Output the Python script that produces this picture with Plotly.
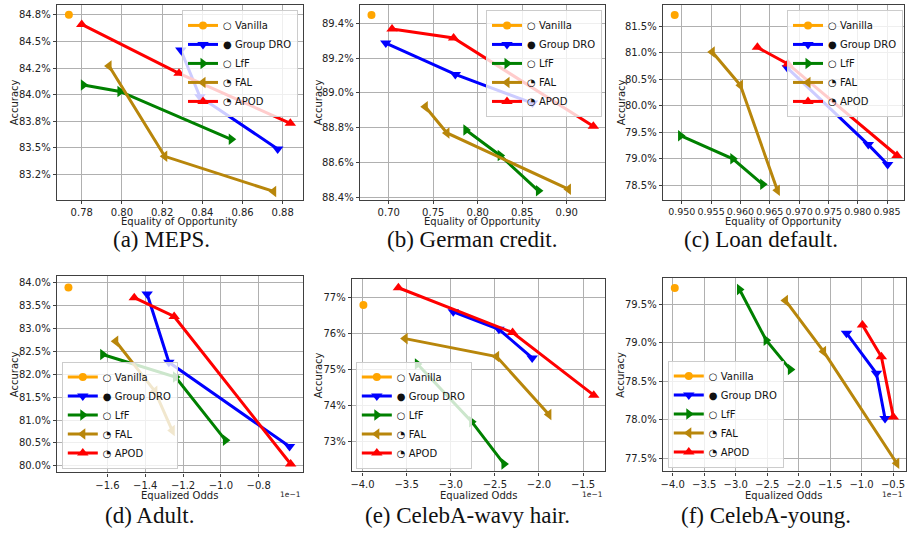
import plotly.graph_objects as go

W, H = 907, 540

# ---------------- data ----------------
methods = ["Vanilla", "Group DRO", "LfF", "FAL", "APOD"]
legend_glyphs = ["○", "●", "○", "◔", "◔"]
colors = ["#FFA500", "#0000FF", "#008000", "#B8860B", "#FF0000"]
symbols = ["circle", "triangle-down", "triangle-right", "triangle-left", "triangle-up"]

# (a) MEPS  -- x: Equality of Opportunity, y: Accuracy (%)
meps_x = [[0.7736], [0.8293, 0.8388, 0.8775], [0.7808, 0.7990, 0.8544],
          [0.7936, 0.8213, 0.8755], [0.7800, 0.8284, 0.8838]]
meps_y = [[84.75], [84.42, 83.98, 83.49], [84.09, 84.03, 83.58],
          [84.27, 83.42, 83.09], [84.66, 84.20, 83.73]]

# (b) German credit
german_x = [[0.6806], [0.6967, 0.7748, 0.8615], [0.7867, 0.8252, 0.8682],
            [0.7411, 0.7654, 0.9019], [0.7037, 0.7729, 0.9299]]
german_y = [[89.447], [89.286, 89.106, 88.942], [88.788, 88.642, 88.440],
            [88.921, 88.771, 88.449], [89.366, 89.315, 88.809]]

# (c) Loan default
loan_x = [[0.9488], [0.9680, 0.9818, 0.9851], [0.9498, 0.9587, 0.9638],
          [0.9552, 0.9600, 0.9663], [0.9629, 0.9681, 0.9867]]
loan_y = [[81.719], [80.719, 79.269, 78.894], [79.438, 79.000, 78.519],
          [81.019, 80.388, 78.406], [81.106, 80.794, 79.063]]

# (d) Adult  -- x: Equalized Odds (units of 1e-1)
adult_x = [[-1.806], [-1.390, -1.275, -0.637], [-1.625, -1.240, -0.976],
           [-1.556, -1.349, -1.257], [-1.458, -1.247, -0.631]]
adult_y = [[83.89], [83.75, 82.26, 80.42], [82.43, 81.94, 80.56],
           [82.72, 81.63, 80.77], [83.67, 83.26, 80.04]]

# (e) CelebA-wavy hair
wavy_x = [[-3.990], [-2.971, -2.454, -2.077], [-3.378, -2.763, -2.397],
          [-3.517, -2.480, -1.888], [-3.593, -2.299, -1.379]]
wavy_y = [[76.80], [76.61, 76.12, 75.32], [75.15, 73.54, 72.36],
          [75.86, 75.36, 73.74], [77.28, 76.03, 74.28]]

# (f) CelebA-young
young_x = [[-3.968], [-1.239, -0.764, -0.627], [-2.939, -2.516, -2.131],
           [-2.210, -1.604, -0.441], [-0.986, -0.685, -0.495]]
young_y = [[79.715], [79.126, 78.605, 78.016], [79.694, 79.035, 78.653],
           [79.552, 78.889, 77.435], [79.233, 78.820, 78.038]]

captions = ["(a) MEPS.", "(b) German credit.", "(c) Loan default.",
            "(d) Adult.", "(e) CelebA-wavy hair.", "(f) CelebA-young."]
x_titles = ["Equality of Opportunity"] * 3 + ["Equalized Odds"] * 3
y_title = "Accuracy"
offset_label = "1e\u22121"

# tick values / labels
meps_xticks = [0.78, 0.80, 0.82, 0.84, 0.86, 0.88]
german_xticks = [0.70, 0.75, 0.80, 0.85, 0.90]
loan_xticks = [0.950, 0.955, 0.960, 0.965, 0.970, 0.975, 0.980, 0.985]
adult_xticks = [-1.6, -1.4, -1.2, -1.0, -0.8]
wavy_xticks = [-4.0, -3.5, -3.0, -2.5, -2.0, -1.5]
young_xticks = [-4.0, -3.5, -3.0, -2.5, -2.0, -1.5, -1.0, -0.5]

meps_yticks = [83.25, 83.50, 83.75, 84.00, 84.25, 84.50, 84.75]
meps_yticktext = ["83.2%", "83.5%", "83.8%", "84.0%", "84.2%", "84.5%", "84.8%"]
german_yticks = [88.4, 88.6, 88.8, 89.0, 89.2, 89.4]
loan_yticks = [78.5, 79.0, 79.5, 80.0, 80.5, 81.0, 81.5]
adult_yticks = [80.0, 80.5, 81.0, 81.5, 82.0, 82.5, 83.0, 83.5, 84.0]
wavy_yticks = [73, 74, 75, 76, 77]
young_yticks = [77.5, 78.0, 78.5, 79.0, 79.5]

panel_x = [meps_x, german_x, loan_x, adult_x, wavy_x, young_x]
panel_y = [meps_y, german_y, loan_y, adult_y, wavy_y, young_y]
panel_xticks = [meps_xticks, german_xticks, loan_xticks, adult_xticks, wavy_xticks, young_xticks]
panel_yticks = [meps_yticks, german_yticks, loan_yticks, adult_yticks, wavy_yticks, young_yticks]

# ---------------- layout helpers ----------------
boxes = [(55, 5, 302, 201), (359, 5, 605, 201), (663, 5, 905, 201),
         (55, 278, 302, 476), (351, 281, 605, 475), (663, 280, 907, 475)]
xranges = [(0.7676, 0.8901), (0.6675, 0.943), (0.94677, 0.98789),
           (-1.8675, -0.5657), (-4.121, -1.2515), (-4.158, -0.294)]
yranges = [(83.014, 84.843), (88.39, 89.504), (78.232, 81.907),
           (79.855, 84.145), (72.149, 77.527), (77.328, 79.845)]
xfmt = [".2f", ".2f", ".3f", ".1f", ".1f", ".1f"]
yfmt = [None, ".1f", ".1f", ".1f", ".0f", ".1f"]
legend_pos = [("right", 297, "top", 10), ("right", 602, "top", 10),
              ("right", 904, "top", 10), ("left", 60, "bottom", 472),
              ("left", 355, "bottom", 472), ("left", 668, "bottom", 471)]
caption_pos = [(160, 241), (472, 241), (762, 241), (148, 519), (467, 519), (767, 519)]
ytitle_x = [12, 317, 621, 12, 317, 621]
xtitle_y = [223, 223, 223, 499, 499, 499]

FONT = "DejaVu Sans"
AX = "#404040"
TXT = "#222222"

fig = go.Figure()
layout = dict(width=W, height=H, margin=dict(l=0, r=0, t=0, b=0),
              paper_bgcolor="white", plot_bgcolor="white", showlegend=True,
              font=dict(family=FONT, size=10, color=TXT))
annotations = []

for p in range(6):
    sfx = "" if p == 0 else str(p + 1)
    lg = "legend" if p == 0 else "legend" + str(p + 1)
    for m in range(5):
        fig.add_trace(go.Scatter(
            x=panel_x[p][m], y=panel_y[p][m],
            mode="lines+markers",
            name=legend_glyphs[m] + " " + methods[m],
            line=dict(color=colors[m], width=3),
            marker=dict(symbol=symbols[m], color=colors[m],
                        size=8 if m == 0 else 10),
            xaxis="x" + sfx, yaxis="y" + sfx, legend=lg, cliponaxis=False))

    x0, y0, x1, y1 = boxes[p]
    common = dict(showline=True, mirror=True, linecolor=AX, linewidth=1.3,
                  showgrid=True, gridcolor="#b0b0b0", gridwidth=1,
                  zeroline=False, ticks="outside", ticklen=3, tickcolor=AX,
                  tickwidth=1, tickangle=0,
                  tickfont=dict(family=FONT, size=9.5 if p == 2 else 10, color=TXT))
    xt = panel_xticks[p]
    layout["xaxis" + sfx] = dict(
        common, domain=[x0 / W, min(x1 / W, 1.0)], anchor="y" + sfx,
        range=list(xranges[p]), tickmode="array", tickvals=xt,
        ticktext=[format(v, xfmt[p]).replace("-", "\u2212") for v in xt])
    yt = panel_yticks[p]
    ya = dict(common, domain=[1 - y1 / H, 1 - y0 / H], anchor="x" + sfx,
              range=list(yranges[p]), tickmode="array", tickvals=yt)
    ya["tickfont"] = dict(family=FONT, size=10, color=TXT)
    if yfmt[p] is None:
        ya["ticktext"] = meps_yticktext
    else:
        ya["ticktext"] = [format(v, yfmt[p]) + "%" for v in yt]
    layout["yaxis" + sfx] = ya

    xa_, lx, ya_, ly = legend_pos[p]
    layout[lg] = dict(x=lx / W, y=1 - ly / H, xanchor=xa_, yanchor=ya_,
                      bgcolor="rgba(255,255,255,0.8)", bordercolor="#cccccc",
                      borderwidth=1, font=dict(family=FONT, size=10, color="#111111"),
                      itemwidth=30, tracegroupgap=0)

    # axis titles
    annotations.append(dict(text=x_titles[p], x=(x0 + min(x1, 905)) / 2 / W,
                            y=1 - xtitle_y[p] / H, xref="paper", yref="paper",
                            showarrow=False, xanchor="center", yanchor="middle",
                            font=dict(family=FONT, size=10, color=TXT)))
    annotations.append(dict(text=y_title, x=ytitle_x[p] / W,
                            y=1 - (y0 + y1) / 2 / H, xref="paper", yref="paper",
                            showarrow=False, xanchor="center", yanchor="middle",
                            textangle=-90, font=dict(family=FONT, size=10, color=TXT)))
    # sub-figure caption
    cx, cy = caption_pos[p]
    annotations.append(dict(text=captions[p], x=cx / W, y=1 - cy / H,
                            xref="paper", yref="paper", showarrow=False,
                            xanchor="center", yanchor="middle",
                            font=dict(family="Liberation Serif", size=23, color="#111111")))
    if p >= 3:
        annotations.append(dict(text=offset_label, x=min(x1, 906) / W, y=1 - 498 / H,
                                xref="paper", yref="paper", showarrow=False,
                                xanchor="right", yanchor="middle",
                                font=dict(family=FONT, size=7.5, color=TXT)))

layout["annotations"] = annotations
fig.update_layout(**layout)
fig.write_html("out.html", config={"displayModeBar": False},
               post_script="document.body.style.margin='0';document.body.style.overflow='hidden';")
